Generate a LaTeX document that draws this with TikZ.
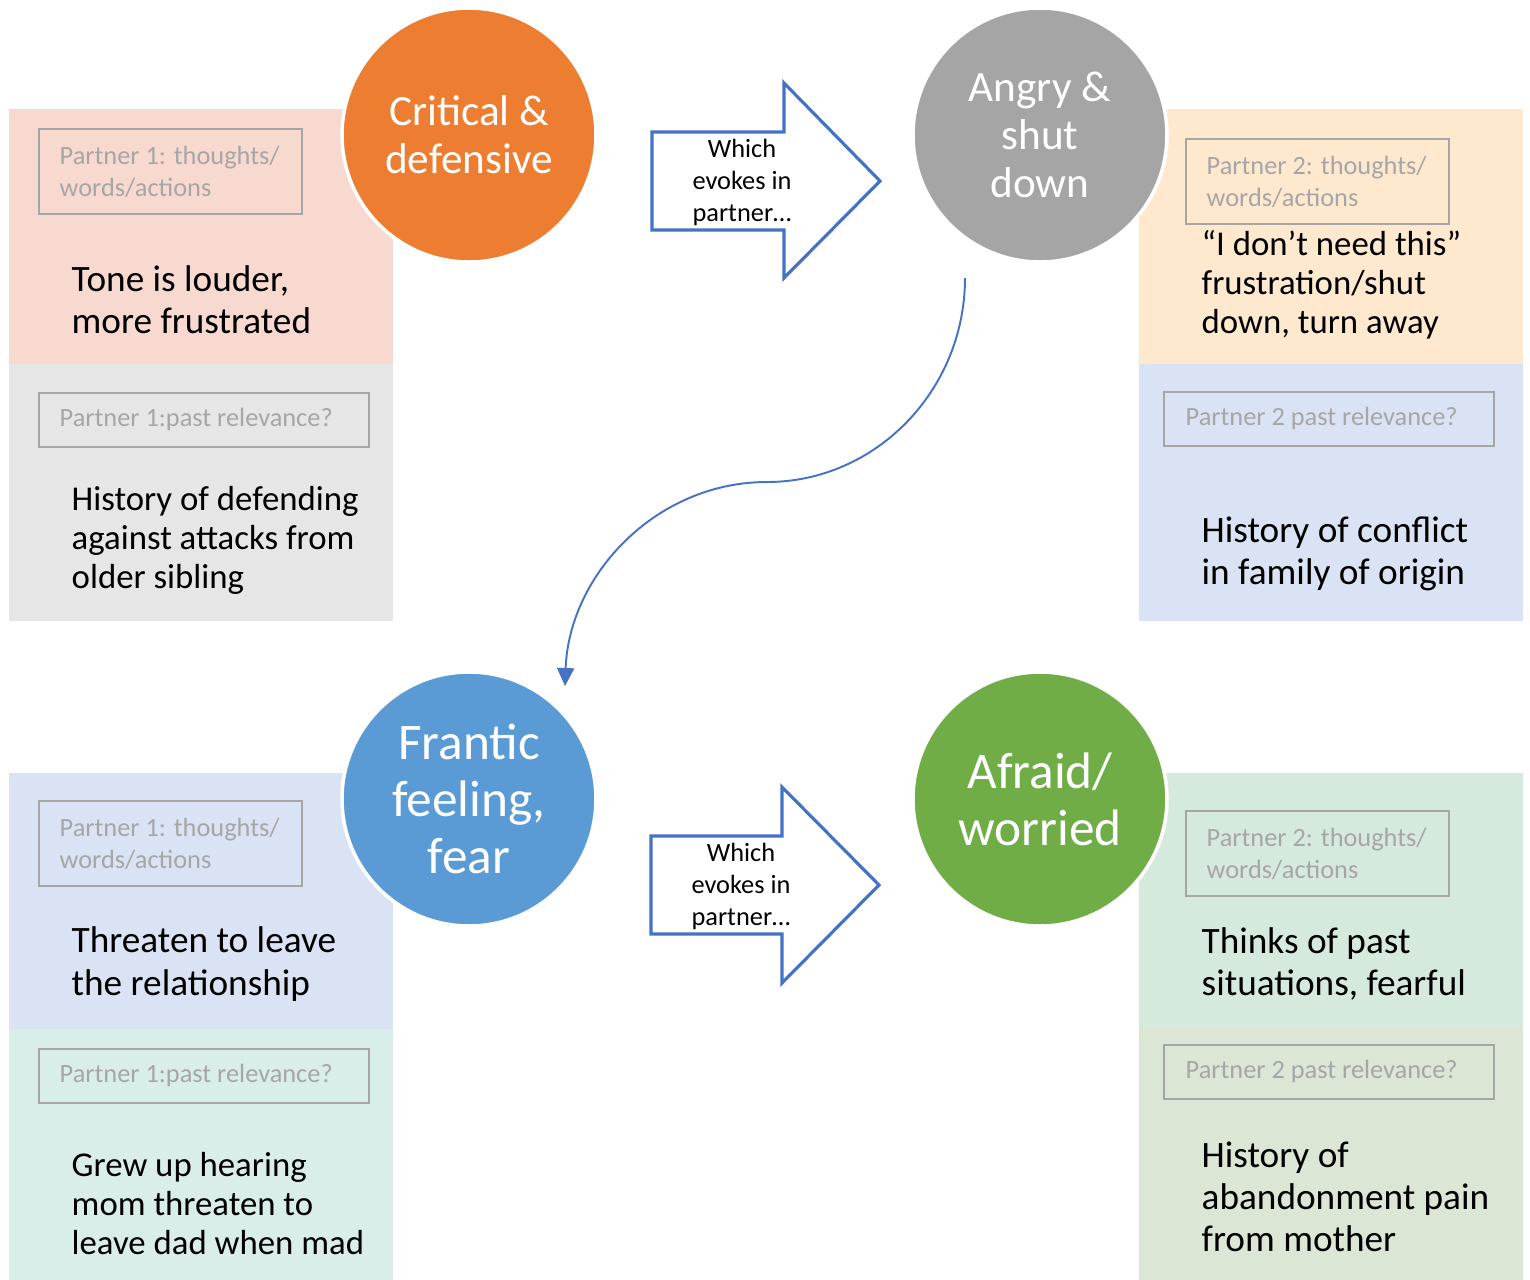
\documentclass[tikz,border=0pt]{standalone}
\usepackage{fontspec}
\setmainfont{Carlito}
\usetikzlibrary{arrows.meta,positioning}
\usepackage{xcolor}
\definecolor{orng}{HTML}{ED7D31}
\definecolor{stone}{HTML}{A5A5A5}
\definecolor{sky}{HTML}{5B9BD5}
\definecolor{leaf}{HTML}{70AD47}
\definecolor{edge}{HTML}{4472C4}
\definecolor{tagc}{HTML}{A6A6A6}
\definecolor{pinkbg}{HTML}{F8D9CF}
\definecolor{greybg}{HTML}{E6E6E6}
\definecolor{peachbg}{HTML}{FEE9CF}
\definecolor{bluebg}{HTML}{DAE3F3}
\definecolor{tealbg}{HTML}{D9EEE8}
\definecolor{mintbg}{HTML}{D6E9DD}
\definecolor{sagebg}{HTML}{DBE6D5}

\begin{document}
\begin{tikzpicture}[x=0.1mm,y=-0.1mm,
        pnl/.style={rectangle,anchor=north west,inner sep=0pt,minimum width=38.4mm,minimum height=25.7mm},
        tag/.style={rectangle,draw=tagc,line width=0.6pt,anchor=north west,inner sep=0pt},
        tagw/.style={tag,minimum width=26.3mm,minimum height=8.5mm},
        tagp/.style={tag,minimum width=33mm,minimum height=5.35mm},
        tagt/.style={anchor=west,align=left,inner sep=0pt,text=tagc,font=\fontsize{7.5}{9.1}\selectfont},
        body/.style={anchor=west,align=left,inner sep=0pt,font=\fontsize{10.6}{12}\selectfont},
        bodys/.style={body,font=\fontsize{9.9}{11.1}\selectfont},
        bub/.style={circle,draw=white,line width=1pt,minimum size=25.4mm,inner sep=0pt,
                    text=white,align=center},
        evk/.style={align=center,inner sep=0pt,font=\fontsize{7.5}{9.1}\selectfont},
        blk/.style={draw=edge,fill=white,line width=0.9pt,line join=miter}]
        \useasboundingbox (0,0) rectangle (1530,1279);
        \node[pnl,fill=pinkbg] (p1a) at (8,108) {};
        \node[pnl,fill=greybg] (p1b) at (8,363) {};
        \node[pnl,fill=peachbg] (p2a) at (1138,108) {};
        \node[pnl,fill=bluebg] (p2b) at (1138,363) {};
        \node[pnl,fill=bluebg] (p3a) at (8,772) {};
        \node[pnl,fill=tealbg] (p3b) at (8,1028) {};
        \node[pnl,fill=mintbg] (p4a) at (1138,772) {};
        \node[pnl,fill=sagebg] (p4b) at (1138,1027) {};

        \node[tagw] (t1a) at (38,128) {};
        \node[tagt,right=2.1mm of t1a.west] {Partner 1: thoughts/\\words/actions};
        \node[tagp] (t1b) at (38,392) {};
        \node[tagt,right=2.1mm of t1b.west] {Partner 1:past relevance?};
        \node[tagw] (t2a) at (1185,138) {};
        \node[tagt,right=2.1mm of t2a.west] {Partner 2: thoughts/\\words/actions};
        \node[tagp] (t2b) at (1163,391) {};
        \node[tagt,right=2.2mm of t2b.west] {Partner 2 past relevance?};
        \node[tagw] (t3a) at (38,800) {};
        \node[tagt,right=2.1mm of t3a.west] {Partner 1: thoughts/\\words/actions};
        \node[tagp] (t3b) at (38,1048) {};
        \node[tagt,right=2.1mm of t3b.west] {Partner 1:past relevance?};
        \node[tagw] (t4a) at (1185,810) {};
        \node[tagt,right=2.1mm of t4a.west] {Partner 2: thoughts/\\words/actions};
        \node[tagp] (t4b) at (1163,1044) {};
        \node[tagt,right=2.2mm of t4b.west] {Partner 2 past relevance?};

        \node[body] (b1a) at (71,300) {Tone is louder,\\more frustrated};
        \node[bodys] (b1b) at (71,540) {History of defending\\against attacks from\\older sibling};
        \node[bodys] (b2a) at (1201,285) {“I don’t need this”\\frustration/shut\\down, turn away};
        \node[body] (b2b) at (1201,554) {History of conflict\\in family of origin};
        \node[body] (b3a) at (71,964) {Threaten to leave\\the relationship};
        \node[bodys] (b3b) at (71,1204) {Grew up hearing\\mom threaten to\\leave dad when mad};
        \node[body] (b4a) at (1201,964) {Thinks of past\\situations, fearful};
        \node[body] (b4b) at (1201,1197) {History of\\abandonment pain\\from mother};

        \node[bub,fill=orng,font=\fontsize{12.3}{13.7}\selectfont] (crit) at (469,135) {Critical \&\\defensive};
        \node[bub,fill=stone,font=\fontsize{12.3}{13.7}\selectfont] (angr) at (1040,135) {Angry \&\\shut\\down};
        \node[bub,fill=sky,font=\fontsize{14.6}{16.2}\selectfont] (fran) at (469,799) {Frantic\\feeling,\\fear};
        \node[bub,fill=leaf,font=\fontsize{14.6}{16.2}\selectfont] (afrd) at (1040,799) {Afraid/\\worried};

        \draw[blk] (652,132) -- (784,132) -- (784,83) -- (880,181) -- (784,278) -- (784,230) -- (652,230) -- cycle;
        \node[evk] (w1) at (742,182) {Which\\evokes in\\partner…};
        \draw[blk] (651,836) -- (782,836) -- (782,787) -- (879,885) -- (782,983) -- (782,934) -- (651,934) -- cycle;
        \node[evk] (w2) at (741,886) {Which\\evokes in\\partner…};

        \coordinate (c0) at (965,278);
        \coordinate (c1) at (565,686);
        \draw[-{Triangle[length=1.8mm,width=1.7mm]},edge,line width=0.55pt]
            (c0) .. controls (965,390) and (876,482) .. (767,482)
                 .. controls (656,482) and (569,575) .. (c1);
      \end{tikzpicture}
\end{document}
